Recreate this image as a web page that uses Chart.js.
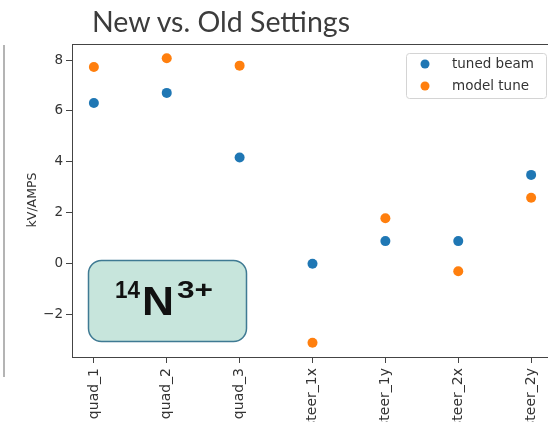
<!DOCTYPE html>
<html>
<head>
<meta charset="utf-8">
<script src="https://cdn.jsdelivr.net/npm/chart.js@4.4.1/dist/chart.umd.min.js"></script>
<style>
    html, body { margin: 0; padding: 0; background: #fff; }
    body { width: 548px; height: 422px; overflow: hidden; position: relative; }
    #wrap { position: absolute; left: 0; top: 0; width: 560px; height: 422px; }
    #overlay { position: absolute; left: 0; top: 0; pointer-events: none; }
    #slideEdge { position: absolute; left: 3px; top: 45px; width: 2px; height: 332px; background: #b4b4b4; }
</style>
</head>
<body>
<div id="slideEdge"></div>
<div id="wrap"><canvas id="chart" width="560" height="422"></canvas></div>
<svg id="overlay" width="548" height="422">
    <text x="92" y="32" textLength="258" lengthAdjust="spacingAndGlyphs" font-family="Lato" font-size="29" fill="#3c3c3c">New vs. Old Settings</text>
    <text transform="translate(36,200) rotate(-90)" text-anchor="middle" font-family="DejaVu Sans" font-size="12.5" fill="#333">kV/AMPS</text>
    <rect x="88.5" y="260.5" width="158" height="81" rx="13" fill="#c7e5dc" stroke="#3f7a93" stroke-width="1.5"/>
    <text x="115" y="298" textLength="25" lengthAdjust="spacingAndGlyphs" font-family="Liberation Sans" font-size="24" font-weight="bold" fill="#111">14</text>
    <text x="142" y="315" textLength="32" lengthAdjust="spacingAndGlyphs" font-family="Liberation Sans" font-size="41" font-weight="bold" fill="#111">N</text>
    <text x="177" y="298" textLength="36" lengthAdjust="spacingAndGlyphs" font-family="Liberation Sans" font-size="24" font-weight="bold" fill="#111">3+</text>
</svg>
<script>
const categories = ["quad_1", "quad_2", "quad_3", "steer_1x", "steer_1y", "steer_2x", "steer_2y"];
const tunedBeam = [6.31, 6.71, 4.17, 0.0, 0.89, 0.89, 3.49];
const modelTune = [7.73, 8.07, 7.78, -3.10, 1.79, -0.29, 2.59];
const yTicks = [-2, 0, 2, 4, 6, 8];
const seriesNames = ["tuned beam", "model tune"];
const seriesColors = ["#1f77b4", "#ff7f0e"];

const axisColor = "#444";

// matplotlib style box around the plot (top and right spines)
const frame = {
    id: "frame",
    afterDraw(chart) {
        const { ctx, chartArea } = chart;
        ctx.save();
        ctx.strokeStyle = axisColor;
        ctx.lineWidth = 1;
        ctx.strokeRect(chartArea.left + 0.5, chartArea.top + 0.5,
            chartArea.right - chartArea.left, chartArea.bottom - chartArea.top);
        ctx.restore();
    },
};

// legend drawn inside the plot, upper right
const insideLegend = {
    id: "insideLegend",
    afterDraw(chart) {
        const { ctx, chartArea } = chart;
        const boxW = 140;
        const boxH = 45;
        const x = chartArea.right - 7 - boxW;
        const y = chartArea.top + 9;
        ctx.save();
        ctx.fillStyle = "rgba(255,255,255,0.85)";
        ctx.strokeStyle = "#d4d4d4";
        ctx.lineWidth = 1;
        ctx.beginPath();
        ctx.roundRect(x + 0.5, y + 0.5, boxW, boxH, 3);
        ctx.fill();
        ctx.stroke();
        ctx.font = '13.5px "DejaVu Sans"';
        ctx.textBaseline = "middle";
        chart.data.datasets.forEach(function (ds, i) {
            const cy = y + 11 + i * 22;
            ctx.fillStyle = ds.backgroundColor;
            ctx.beginPath();
            ctx.arc(x + 19, cy, 4.5, 0, Math.PI * 2);
            ctx.fill();
            ctx.fillStyle = "#333";
            ctx.fillText(ds.label, x + 46, cy);
        });
        ctx.restore();
    },
};

const toPoints = (values) => values.map((v, i) => ({ x: i, y: v }));

const config = {
    type: "scatter",
    data: {
        datasets: [{
            label: seriesNames[0],
            data: toPoints(tunedBeam),
            backgroundColor: seriesColors[0],
            borderWidth: 0,
            pointRadius: 5,
            order: 2,
        }, {
            label: seriesNames[1],
            data: toPoints(modelTune),
            backgroundColor: seriesColors[1],
            borderWidth: 0,
            pointRadius: 5,
            order: 1,
        }],
    },
    options: {
        responsive: false,
        animation: false,
        devicePixelRatio: 1,
        layout: { padding: { top: 44, right: 7, left: 0, bottom: 0 } },
        plugins: {
            legend: { display: false },
            tooltip: { enabled: false },
        },
        scales: {
            x: {
                type: "linear",
                min: -0.3,
                max: 6.3,
                afterBuildTicks: (scale) => { scale.ticks = categories.map((c, i) => ({ value: i })); },
                afterFit: (scale) => { scale.height = 65; },
                ticks: {
                    autoSkip: false,
                    minRotation: 90,
                    maxRotation: 90,
                    padding: 5,
                    color: "#333",
                    font: { family: "DejaVu Sans", size: 14 },
                    callback: (v) => categories[v],
                },
                grid: { drawOnChartArea: false, drawTicks: true, tickLength: 6, color: axisColor },
                border: { display: true, color: axisColor, width: 1 },
            },
            y: {
                min: -3.66,
                max: 8.63,
                afterBuildTicks: (scale) => { scale.ticks = yTicks.map((v) => ({ value: v })); },
                afterFit: (scale) => { scale.width = 72; },
                ticks: {
                    padding: 3,
                    color: "#333",
                    font: { family: "DejaVu Sans", size: 13.5 },
                    callback: (v) => String(v).replace("-", "\u2212"),
                },
                grid: { drawOnChartArea: false, drawTicks: true, tickLength: 6, color: axisColor },
                border: { display: true, color: axisColor, width: 1 },
            },
        },
    },
    plugins: [frame, insideLegend],
};

new Chart(document.getElementById("chart").getContext("2d"), config);
</script>
</body>
</html>
